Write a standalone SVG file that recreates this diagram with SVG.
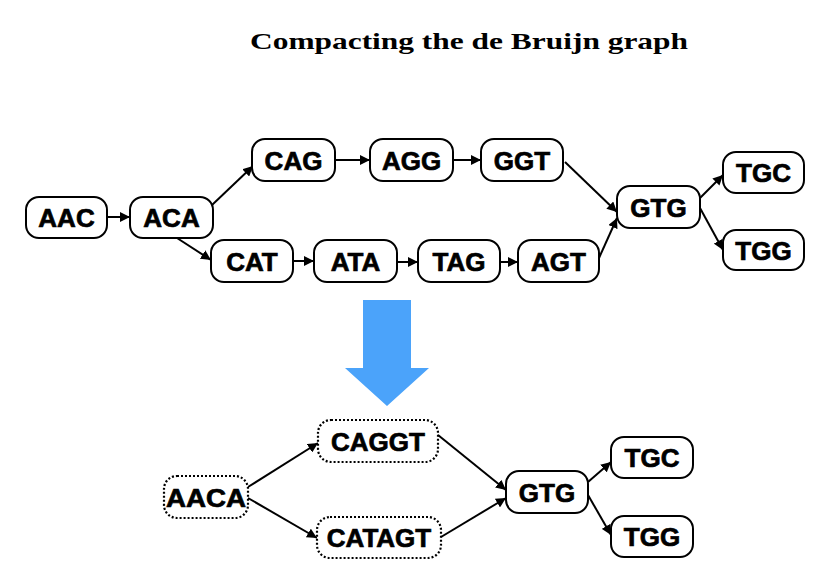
<svg xmlns="http://www.w3.org/2000/svg" width="840" height="574" viewBox="0 0 840 574">
<style>
.n rect{fill:#fff;stroke:#000;stroke-width:2}
.d rect{fill:#fff;stroke:#000;stroke-width:2.2;stroke-dasharray:2 2}
.n text,.d text{font-family:"Liberation Sans",Arial,sans-serif;font-weight:bold;font-size:26px;text-anchor:middle;fill:#000;stroke:#000;stroke-width:0.7}
.e line{stroke:#000;stroke-width:2;marker-end:url(#ah)}
.title{font-family:"Liberation Serif","DejaVu Serif",serif;font-weight:bold;font-size:24px;fill:#000}
</style>
<defs>
<marker id="ah" viewBox="0 0 10 10" refX="10" refY="5" markerWidth="5" markerHeight="5" markerUnits="strokeWidth" orient="auto">
<path d="M0,0 L10,5 L0,10 z" fill="#000"/>
</marker>
</defs>
<rect width="840" height="574" fill="#fff"/>
<text class="title" x="250" y="49" textLength="438" lengthAdjust="spacingAndGlyphs">Compacting the de Bruijn graph</text>

<g id="edges" class="e">
<line x1="107" y1="217" x2="130" y2="217"/>
<line x1="212" y1="205" x2="253" y2="166"/>
<line x1="177" y1="238" x2="211" y2="260"/>
<line x1="335" y1="160" x2="370" y2="160"/>
<line x1="453" y1="160" x2="481" y2="160"/>
<line x1="293" y1="261" x2="314" y2="261"/>
<line x1="397" y1="262" x2="418" y2="262"/>
<line x1="500" y1="262" x2="518" y2="262"/>
<line x1="565" y1="162" x2="617" y2="212"/>
<line x1="599" y1="258" x2="617" y2="218"/>
<line x1="700" y1="198" x2="723" y2="175"/>
<line x1="700" y1="208" x2="723" y2="250"/>
<line x1="248" y1="487" x2="318" y2="443"/>
<line x1="248" y1="498" x2="317" y2="538"/>
<line x1="438" y1="435" x2="506" y2="490"/>
<line x1="441" y1="537" x2="506" y2="498"/>
<line x1="588" y1="482" x2="611" y2="462"/>
<line x1="588" y1="495" x2="611" y2="535"/>
</g>

<path id="compact-arrow" d="M363,300 L411,300 L411,368 L429,368 L387,406 L345,368 L363,368 Z" fill="#4BA3FA"/>

<g id="AAC" class="n"><rect x="26" y="197" width="81" height="41" rx="13"/><text x="66.5" y="227">AAC</text></g>
<g id="ACA" class="n"><rect x="130" y="197" width="83" height="41" rx="13"/><text x="171.5" y="227">ACA</text></g>
<g id="CAG" class="n"><rect x="252" y="139" width="83" height="42" rx="13"/><text x="293.5" y="169.5">CAG</text></g>
<g id="AGG" class="n"><rect x="370" y="139" width="83" height="42" rx="13"/><text x="411.5" y="169.5">AGG</text></g>
<g id="GGT" class="n"><rect x="481" y="139" width="82" height="42" rx="13"/><text x="522" y="169.5">GGT</text></g>
<g id="CAT" class="n"><rect x="211" y="240" width="82" height="42" rx="13"/><text x="252" y="270.5">CAT</text></g>
<g id="ATA" class="n"><rect x="314" y="240" width="83" height="42" rx="13"/><text x="355.5" y="270.5">ATA</text></g>
<g id="TAG" class="n"><rect x="418" y="240" width="82" height="42" rx="13"/><text x="459" y="270.5">TAG</text></g>
<g id="AGT" class="n"><rect x="518" y="240" width="81" height="42" rx="13"/><text x="558.5" y="270.5">AGT</text></g>
<g id="GTG" class="n"><rect x="617" y="186" width="83" height="42" rx="13"/><text x="658.5" y="216.5">GTG</text></g>
<g id="TGC" class="n"><rect x="723" y="152" width="81" height="41" rx="13"/><text x="763.5" y="182">TGC</text></g>
<g id="TGG" class="n"><rect x="723" y="230" width="81" height="40" rx="13"/><text x="763.5" y="259.5">TGG</text></g>

<g id="AACA" class="d"><rect x="164" y="476" width="84" height="42" rx="13"/><text x="206" y="506.5" textLength="80" lengthAdjust="spacingAndGlyphs">AACA</text></g>
<g id="CAGGT" class="d"><rect x="318" y="420" width="120" height="42" rx="13"/><text x="378" y="450.5">CAGGT</text></g>
<g id="CATAGT" class="d"><rect x="317" y="517" width="124" height="41" rx="13"/><text x="379" y="547">CATAGT</text></g>
<g id="GTG2" class="n"><rect x="506" y="471" width="82" height="42" rx="13"/><text x="547" y="501.5">GTG</text></g>
<g id="TGC2" class="n"><rect x="611" y="437" width="82" height="41" rx="13"/><text x="652" y="467">TGC</text></g>
<g id="TGG2" class="n"><rect x="611" y="516" width="82" height="41" rx="13"/><text x="652" y="546">TGG</text></g>
</svg>
